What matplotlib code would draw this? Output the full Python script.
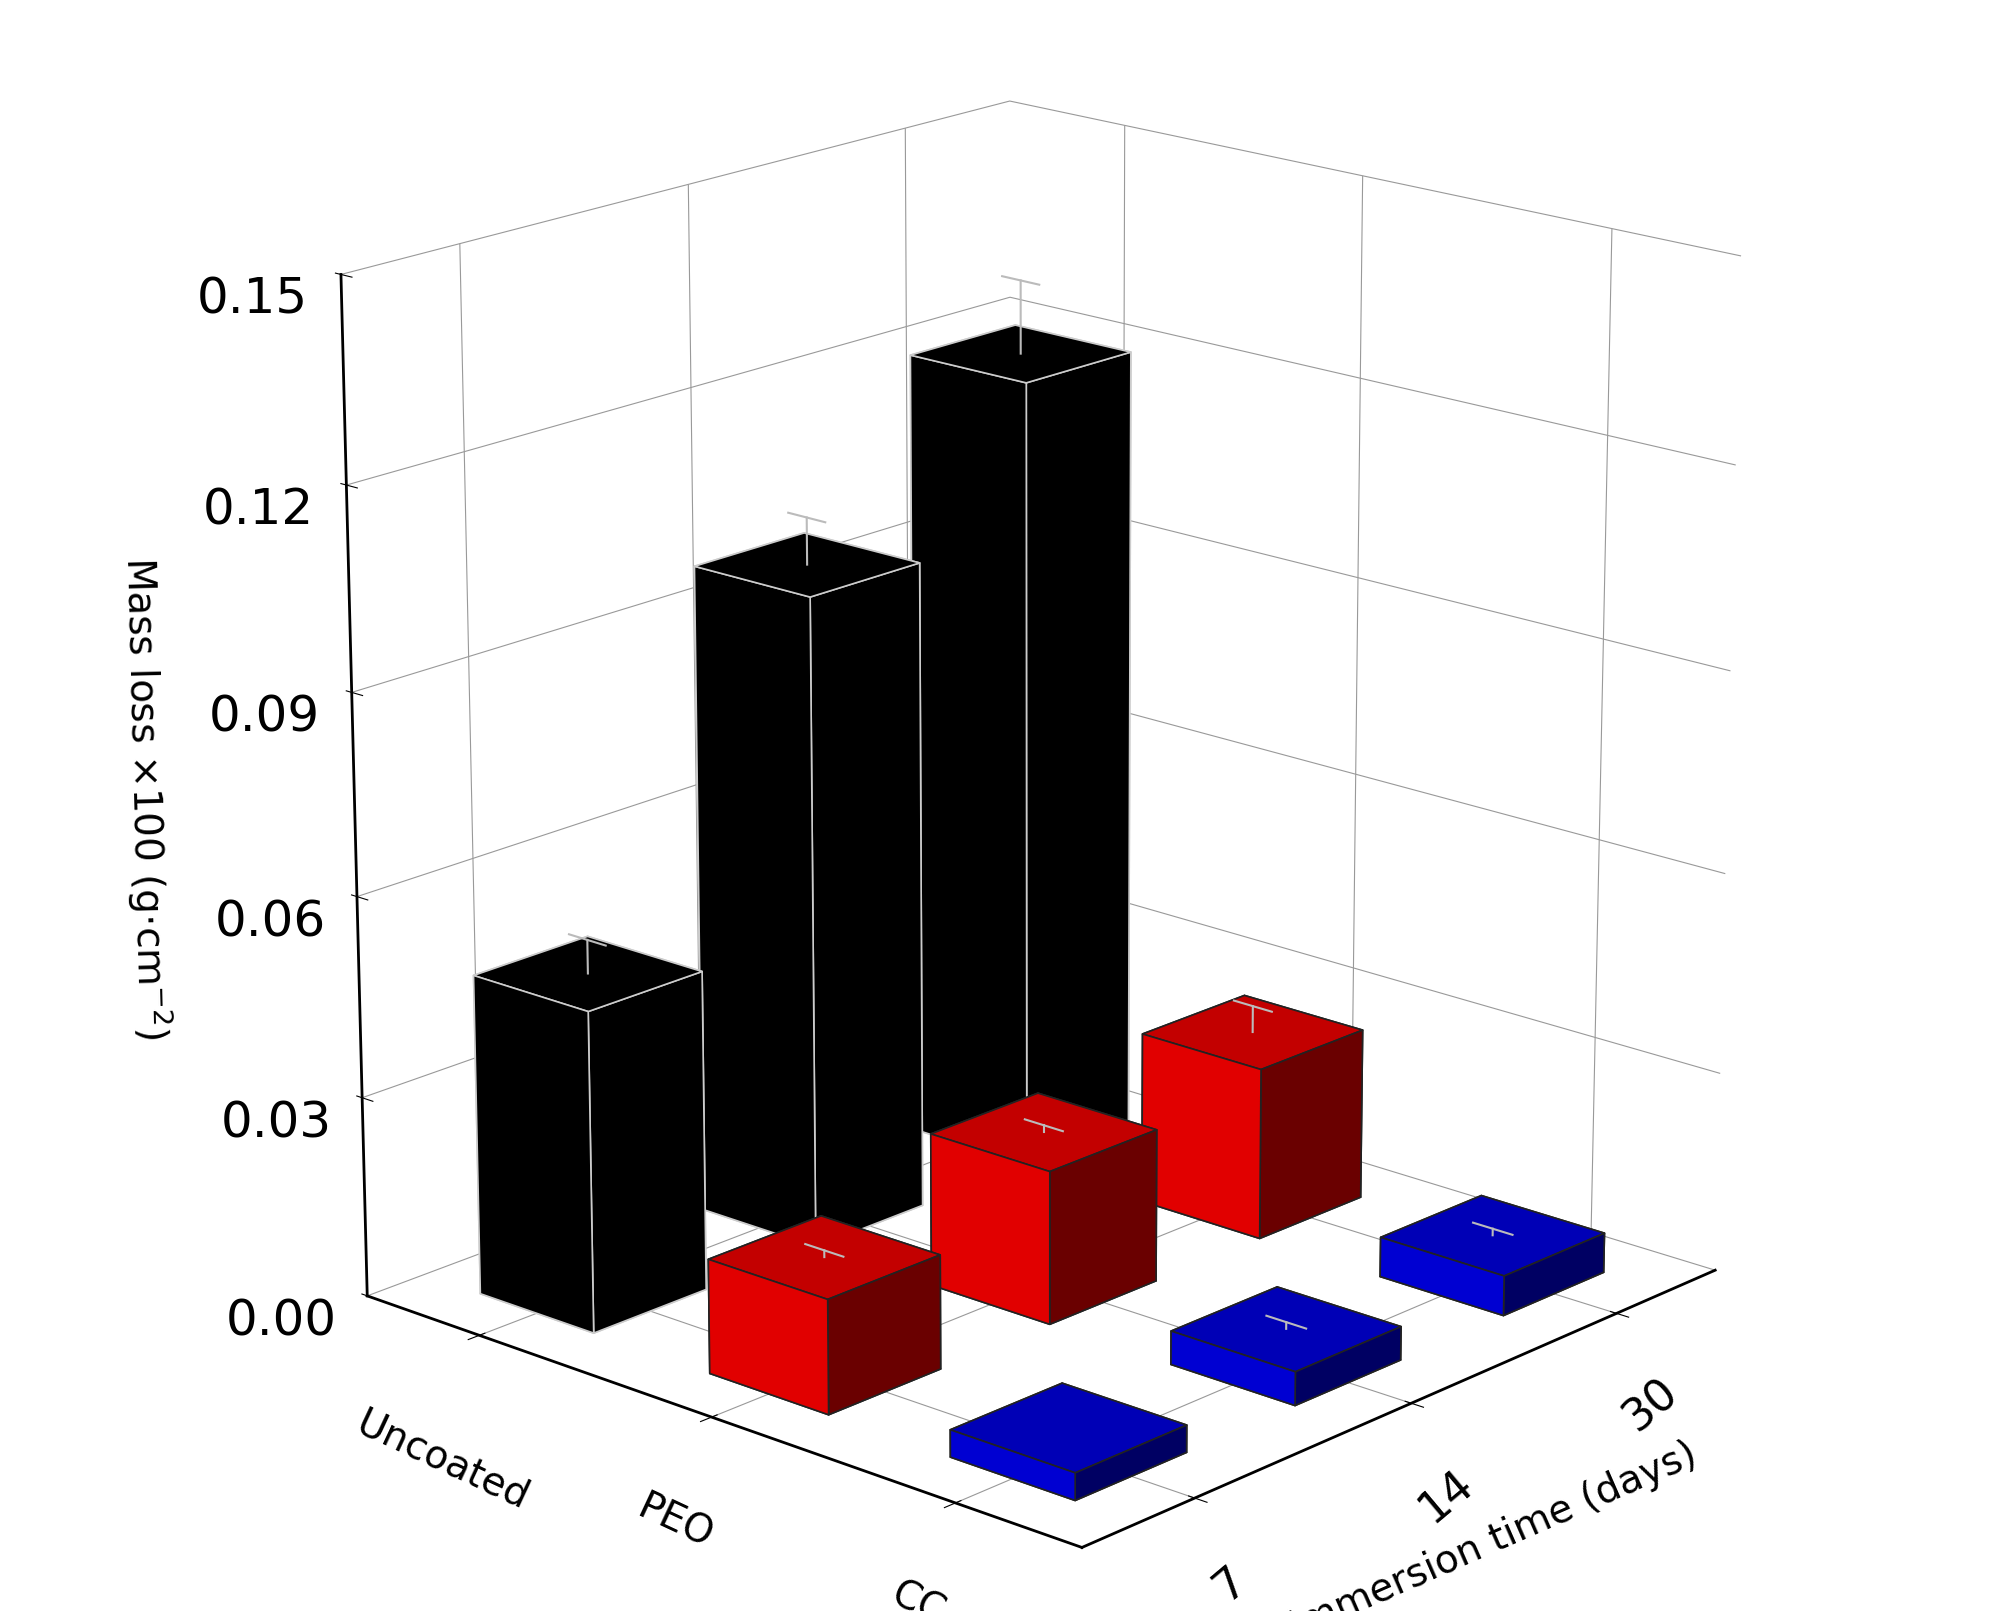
import numpy as np
import matplotlib
matplotlib.use("Agg")
import matplotlib.pyplot as plt

coatings = ["Uncoated", "PEO", "CC"]
times = ["7", "14", "30"]
# values[coating][time]
values = [[0.048, 0.098, 0.120],
          [0.017, 0.023, 0.026],
          [0.004, 0.005, 0.006]]
errors = [[0.005, 0.007, 0.011],
          [0.001, 0.001, 0.004],
          [0.001, 0.001, 0.001]]
colors = ["#000000", "#ff0000", "#0000ee"]

fig = plt.figure(figsize=(20.04, 16.11), dpi=100)
ax = fig.add_axes([0.02, 0.0, 0.98, 1.0], projection="3d")
ax.view_init(elev=18, azim=-48)

w = 0.5
for i in range(3):
    for j in range(3):
        v = values[i][j]
        ax.bar3d(i - w/2, j - w/2, 0, w, w, v, color=colors[i],
                 edgecolor="#cccccc" if i == 0 else "#222222", linewidth=1.2, shade=True)
        e = errors[i][j]
        ax.plot([i, i], [j, j], [v, v + e], color="#bbbbbb", lw=1.5, zorder=10)
        ax.plot([i - 0.08, i + 0.08], [j, j], [v + e, v + e], color="#bbbbbb", lw=1.5, zorder=10)

ax.set_xlim(-0.5, 2.5)
ax.set_ylim(-0.5, 2.5)
ax.set_zlim(0, 0.15)
ax.zaxis._axinfo["juggled"] = (1, 2, 0)
ax.set_xticks(range(3))
ax.set_xticklabels(coatings, fontsize=28, rotation=-25)
ax.set_yticks(range(3))
ax.set_yticklabels(times, fontsize=32, rotation=40)
zt = np.arange(0, 0.151, 0.03)
ax.set_zticks(zt)
ax.set_zticklabels([f"{t:.2f}" for t in zt], fontsize=36)
ax.set_ylabel("Immersion time (days)", fontsize=28, labelpad=45)
ax.set_zlabel(r"Mass loss $\times$100 (g$\cdot$cm$^{-2}$)", fontsize=28, labelpad=70)

for axis in (ax.xaxis, ax.yaxis, ax.zaxis):
    axis.set_pane_color((1, 1, 1, 1))
    axis._axinfo["grid"]["color"] = "#999999"
    axis._axinfo["grid"]["linewidth"] = 0.8
    axis.line.set_linewidth(2)
ax.tick_params(axis="x", pad=25)
ax.tick_params(axis="y", pad=20)
ax.tick_params(axis="z", pad=30)
ax.set_box_aspect((1, 1, 1.1), zoom=1.05)

fig.savefig("out.png", dpi=100)
